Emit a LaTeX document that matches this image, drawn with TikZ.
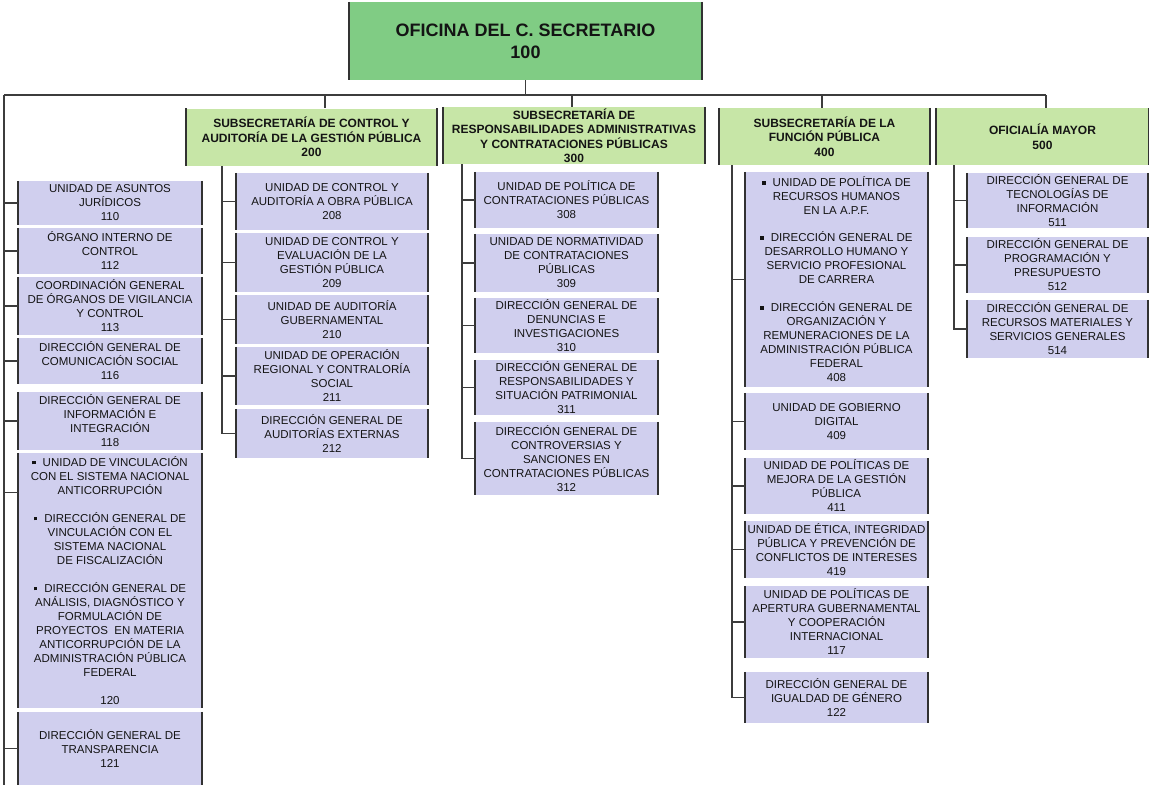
\documentclass[tikz,border=0pt]{standalone}
\usepackage{fontspec}
\setmainfont{Liberation Sans}
\definecolor{topg}{RGB}{128,204,132}
\definecolor{subg}{RGB}{199,230,167}
\definecolor{lav}{RGB}{208,207,238}
\definecolor{bordc}{RGB}{50,50,50}
\definecolor{linec}{RGB}{60,60,60}
\definecolor{txtc}{RGB}{20,20,20}
\newcommand{\bul}{\raisebox{2pt}{\rule{3.5pt}{3.5pt}}\hspace{7pt}}
\tikzset{
  boxbase/.style={fill=#1, inner sep=0pt, align=center, text=txtc},
  topbox/.style={boxbase=topg, minimum width=353pt, minimum height=78pt, font=\fontsize{18}{22}\selectfont\bfseries},
  subbox/.style={boxbase=subg, minimum height=57pt, font=\fontsize{12}{14.5}\selectfont\bfseries},
  unitbox/.style={boxbase=lav, font=\fontsize{11.5}{14}\selectfont},
  colA/.style={unitbox, minimum width=184pt},
  colB/.style={unitbox, minimum width=192pt},
  colC/.style={unitbox, minimum width=183pt},
  colD/.style={unitbox, minimum width=183pt},
  colE/.style={unitbox, minimum width=181pt},
  conn/.style={draw=linec, line width=1.2pt},
  side/.style={draw=bordc, line width=1.6pt},
}
\begin{document}
\begin{tikzpicture}[x=1pt,y=-1pt]
\useasboundingbox (0,0) rectangle (1149,785);
% top
\node[topbox] (top) at (525.5,41) {OFICINA DEL C. SECRETARIO\\100};
% headers
\node[subbox, minimum width=251pt] (s200) at (311.5,137) {SUBSECRETARÍA DE CONTROL Y\\AUDITORÍA DE LA GESTIÓN PÚBLICA\\200};
\node[subbox, minimum width=262pt] (s300) at (574,135.5) {SUBSECRETARÍA DE\\RESPONSABILIDADES ADMINISTRATIVAS\\Y CONTRATACIONES PÚBLICAS\\300};
\node[subbox, minimum width=211pt] (s400) at (824.5,136.5) {SUBSECRETARÍA DE LA\\FUNCIÓN PÚBLICA\\400};
\node[subbox, minimum width=213pt] (s500) at (1042.5,136.5) {OFICIALÍA MAYOR\\500};
% left column
\node[colA, minimum height=44pt] (b110) at (110,203) {UNIDAD DE ASUNTOS\\JURÍDICOS\\110};
\node[colA, minimum height=46pt] (b112) at (110,251) {ÓRGANO INTERNO DE\\CONTROL\\112};
\node[colA, minimum height=58pt] (b113) at (110,306) {COORDINACIÓN GENERAL\\DE ÓRGANOS DE VIGILANCIA\\Y CONTROL\\113};
\node[colA, minimum height=46pt] (b116) at (110,361) {DIRECCIÓN GENERAL DE\\COMUNICACIÓN SOCIAL\\116};
\node[colA, minimum height=58pt] (b118) at (110,421) {DIRECCIÓN GENERAL DE\\INFORMACIÓN E\\INTEGRACIÓN\\118};
\node[colA, minimum height=255pt] (b120) at (110,580.5) {\bul UNIDAD DE VINCULACIÓN\\CON EL SISTEMA NACIONAL\\ANTICORRUPCIÓN\\[14pt]\bul DIRECCIÓN GENERAL DE\\VINCULACIÓN CON EL\\SISTEMA NACIONAL\\DE FISCALIZACIÓN\\[14pt]\bul DIRECCIÓN GENERAL DE\\ANÁLISIS, DIAGNÓSTICO Y\\FORMULACIÓN DE\\PROYECTOS~ EN MATERIA\\ANTICORRUPCIÓN DE LA\\ADMINISTRACIÓN PÚBLICA\\FEDERAL\\[14pt]120};
\node[colA, minimum height=73pt] (b121) at (110,748.5) {DIRECCIÓN GENERAL DE\\TRANSPARENCIA\\121};
% column 200
\node[colB, minimum height=57pt] (b208) at (332,201.5) {UNIDAD DE CONTROL Y\\AUDITORÍA A OBRA PÚBLICA\\208};
\node[colB, minimum height=59pt] (b209) at (332,262.5) {UNIDAD DE CONTROL Y\\EVALUACIÓN DE LA\\GESTIÓN PÚBLICA\\209};
\node[colB, minimum height=49pt] (b210) at (332,319.5) {UNIDAD DE AUDITORÍA\\GUBERNAMENTAL\\210};
\node[colB, minimum height=58pt] (b211) at (332,376) {UNIDAD DE OPERACIÓN\\REGIONAL Y CONTRALORÍA\\SOCIAL\\211};
\node[colB, minimum height=49pt] (b212) at (332,433.5) {DIRECCIÓN GENERAL DE\\AUDITORÍAS EXTERNAS\\212};
% column 300
\node[colC, minimum height=56pt] (b308) at (566.5,200) {UNIDAD DE POLÍTICA DE\\CONTRATACIONES PÚBLICAS\\308};
\node[colC, minimum height=58pt] (b309) at (566.5,263) {UNIDAD DE NORMATIVIDAD\\DE CONTRATACIONES\\PÚBLICAS\\309};
\node[colC, minimum height=55pt] (b310) at (566.5,325.5) {DIRECCIÓN GENERAL DE\\DENUNCIAS E\\INVESTIGACIONES\\310};
\node[colC, minimum height=55pt] (b311) at (566.5,387.5) {DIRECCIÓN GENERAL DE\\RESPONSABILIDADES Y\\SITUACIÓN PATRIMONIAL\\311};
\node[colC, minimum height=73pt] (b312) at (566.5,458.5) {DIRECCIÓN GENERAL DE\\CONTROVERSIAS Y\\SANCIONES EN\\CONTRATACIONES PÚBLICAS\\312};
% column 400
\node[colD, minimum height=215pt] (b408) at (836.5,279.5) {\bul UNIDAD DE POLÍTICA DE\\RECURSOS HUMANOS\\EN LA A.P.F.\\[13pt]\bul DIRECCIÓN GENERAL DE\\DESARROLLO HUMANO Y\\SERVICIO PROFESIONAL\\DE CARRERA\\[14pt]\bul DIRECCIÓN GENERAL DE\\ORGANIZACIÓN Y\\REMUNERACIONES DE LA\\ADMINISTRACIÓN PÚBLICA\\FEDERAL\\408};
\node[colD, minimum height=57pt] (b409) at (836.5,421.5) {UNIDAD DE GOBIERNO\\DIGITAL\\409};
\node[colD, minimum height=56pt] (b411) at (836.5,486) {UNIDAD DE POLÍTICAS DE\\MEJORA DE LA GESTIÓN\\PÚBLICA\\411};
\node[colD, minimum height=57pt] (b419) at (836.5,549.5) {UNIDAD DE ÉTICA, INTEGRIDAD\\PÚBLICA Y PREVENCIÓN DE\\CONFLICTOS DE INTERESES\\419};
\node[colD, minimum height=72pt] (b117) at (836.5,622) {UNIDAD DE POLÍTICAS DE\\APERTURA GUBERNAMENTAL\\Y COOPERACIÓN\\INTERNACIONAL\\117};
\node[colD, minimum height=51pt] (b122) at (836.5,697.5) {DIRECCIÓN GENERAL DE\\IGUALDAD DE GÉNERO\\122};
% column 500
\node[colE, minimum height=55pt] (b511) at (1057.5,200.5) {DIRECCIÓN GENERAL DE\\TECNOLOGÍAS DE\\INFORMACIÓN\\511};
\node[colE, minimum height=56pt] (b512) at (1057.5,265) {DIRECCIÓN GENERAL DE\\PROGRAMACIÓN Y\\PRESUPUESTO\\512};
\node[colE, minimum height=58pt] (b514) at (1057.5,329) {DIRECCIÓN GENERAL DE\\RECURSOS MATERIALES Y\\SERVICIOS GENERALES\\514};
% side borders
\foreach \n in {top,s200,s300,s400,s500,b110,b112,b113,b116,b118,b120,b121,b208,b209,b210,b211,b212,b308,b309,b310,b311,b312,b408,b409,b411,b419,b117,b122,b511,b512,b514}
  \draw[side] (\n.north west) -- (\n.south west) (\n.north east) -- (\n.south east);
% bus
\coordinate (busL) at (4,95);
\coordinate (busR) at (1046,95);
\coordinate (d200) at (325,95);
\coordinate (d300) at (572,95);
\coordinate (d400) at (822,95);
\coordinate (leftEnd) at (4,785);
\draw[conn] (top.south) -- (top.south |- busL);
\draw[conn] (busL) -- (busR);
\draw[conn] (busL) -- (leftEnd);
\draw[conn] (d200) -- (d200 |- s200.north);
\draw[conn] (d300) -- (d300 |- s300.north);
\draw[conn] (d400) -- (d400 |- s400.north);
\draw[conn] (busR) -- (busR |- s500.north);
% left stubs
\foreach \n in {b110,b112,b113,b116,b118,b121}
  \draw[conn] (\n.west) -- (\n.west -| busL);
\draw[conn] ([yshift=88pt]b120.west) -- ([yshift=88pt]b120.west -| busL);
% column spines
\coordinate (sp2) at (222,166);
\coordinate (sp3) at (462,164);
\coordinate (sp4) at (732,165);
\coordinate (sp5) at (954,165);
\draw[conn] (sp2) |- (b212.west);
\foreach \n in {b208,b209,b210,b211}
  \draw[conn] (\n.west) -- (\n.west -| sp2);
\draw[conn] (sp3) |- (b312.west);
\foreach \n in {b308,b309,b310,b311}
  \draw[conn] (\n.west) -- (\n.west -| sp3);
\draw[conn] (sp4) |- (b122.west);
\foreach \n in {b408,b409,b411,b419,b117}
  \draw[conn] (\n.west) -- (\n.west -| sp4);
\draw[conn] (sp5) |- (b514.west);
\foreach \n in {b511,b512}
  \draw[conn] (\n.west) -- (\n.west -| sp5);
\end{tikzpicture}
\end{document}
